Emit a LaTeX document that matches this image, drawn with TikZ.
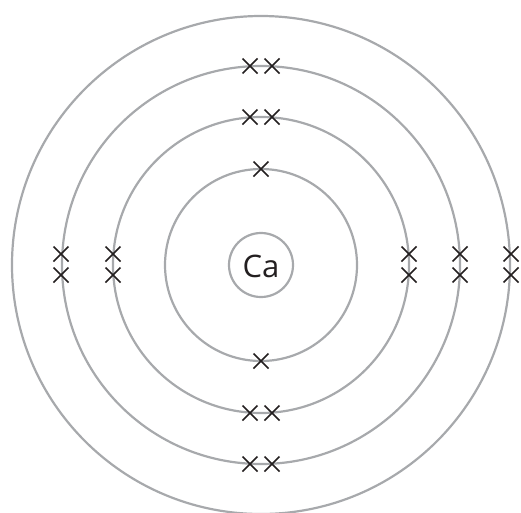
\documentclass[tikz,border=0pt]{standalone}
\usepackage{fontspec}
\setmainfont{Open Sans}
\definecolor{shell}{HTML}{A7A9AC}
\definecolor{elec}{HTML}{231F20}
\begin{document}
\begin{tikzpicture}[x=1pt,y=-1pt,
  shellc/.style={draw=shell,line width=2.2pt},
  elx/.style={draw=elec,line width=1.7pt}]
\useasboundingbox (0,0) rectangle (521,512);
\coordinate (c) at (261,265);
\draw[shellc] (c) circle[radius=32];
\draw[shellc] (c) circle[radius=96];
\draw[shellc] (c) circle[radius=148];
\draw[shellc] (c) circle[radius=199];
\draw[shellc] (c) circle[radius=249];
\node[text=elec,font=\fontsize{31}{33}\selectfont,inner sep=0pt] (nuc) at (261,266) {Ca};
\newcommand{\elcross}[2]{\draw[elx] (#1-7.5,#2-7.5) -- (#1+7.5,#2+7.5) (#1-7.5,#2+7.5) -- (#1+7.5,#2-7.5);}
% shell 1
\elcross{261}{169}
\elcross{261}{361}
% shell 2
\elcross{250}{117}\elcross{272}{117}
\elcross{250}{413}\elcross{272}{413}
\elcross{113}{254}\elcross{113}{275}
\elcross{409}{254}\elcross{409}{275}
% shell 3
\elcross{250}{66}\elcross{272}{66}
\elcross{250}{464}\elcross{272}{464}
\elcross{61}{254}\elcross{61}{275}
\elcross{460}{254}\elcross{460}{275}
% shell 4
\elcross{511}{254}\elcross{511}{275}
\end{tikzpicture}
\end{document}
